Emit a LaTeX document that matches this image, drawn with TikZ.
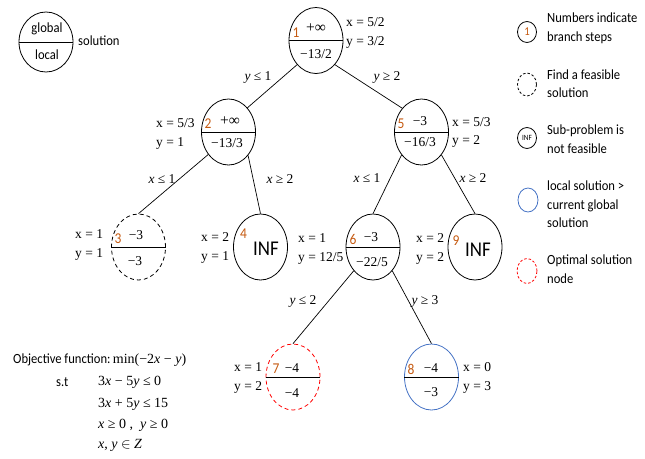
\documentclass[tikz,border=0pt]{standalone}
\usepackage{fontspec}
\setmainfont{Liberation Serif}
\newfontfamily\sfc{Carlito}[FakeStretch=0.9]
\usetikzlibrary{shapes.geometric}
\definecolor{numc}{RGB}{197,90,17}
\definecolor{bluec}{RGB}{68,114,196}
\definecolor{redc}{RGB}{255,0,0}
\tikzset{
  tn/.style={ellipse, draw, line width=0.8pt, minimum width=54pt, minimum height=66pt, inner sep=0pt},
  divl/.style={line width=0.8pt},
  edge/.style={line width=0.7pt},
  num/.style={text=numc, font=\sfc\fontsize{15}{15}\selectfont, inner sep=0pt},
  val/.style={font=\fontsize{13.5}{14}\selectfont, inner sep=0pt},
  infv/.style={font=\fontsize{15.5}{16}\selectfont, inner sep=0pt},
  side/.style={val, anchor=west, text height=9.5pt, text depth=3pt},
  elbl/.style={val, text height=9.5pt, text depth=3pt},
  inf/.style={font=\sfc\fontsize{21}{22}\selectfont, inner sep=0pt},
  sans/.style={font=\sfc\fontsize{14}{18.5}\selectfont, inner sep=0pt},
  legtxt/.style={sans, anchor=west, align=left},
  legc/.style={ellipse, draw, line width=0.8pt, inner sep=0pt, minimum width=19pt, minimum height=21pt},
  dash1/.style={dash pattern=on 4pt off 3pt},
  dash2/.style={dash pattern=on 2.5pt off 2pt}
}
\begin{document}
\begin{tikzpicture}[x=1pt,y=-1pt]
\useasboundingbox (0,0) rectangle (645,458);

% legend top-left
\node[ellipse, draw, line width=0.8pt, minimum width=54pt, minimum height=60pt, inner sep=0pt] (lg) at (46,42) {};
\draw[divl] (lg.west) -- (lg.east);
\node[sans] (lgg) at (47,29) {global};
\node[sans] (lgl) at (47,55) {local};
\node[sans, anchor=west] (lgs) at (78,41) {solution};

% tree nodes
\node[tn] (n1) at (316,40.5) {};
\node[tn] (n2) at (228.5,132) {};
\node[tn] (n5) at (421.5,132) {};
\node[tn, dash1] (n3) at (138.5,247) {};
\node[tn] (n4) at (260.5,247) {};
\node[tn] (n6) at (373,247) {};
\node[tn] (n9) at (475,247) {};
\node[tn, draw=redc, dash1] (n7) at (293,377) {};
\node[tn, draw=bluec] (n8) at (431.5,377) {};

\foreach \n in {n1,n2,n5,n3,n6,n7,n8} {\draw[divl] (\n.west) -- (\n.east);}

% edges
\draw[edge] (n1.232) -- (n2.52);
\draw[edge] (n1.308) -- (n5.129);
\draw[edge] (n2.228) -- (n3.north);
\draw[edge] (n2.310) -- (n4.north);
\draw[edge] (n5.229) -- (n6.north);
\draw[edge] (n5.311) -- (n9.north);
\draw[edge] (n6.231) -- (n7.north);
\draw[edge] (n6.309) -- (n8.north);

% edge labels
\node[elbl] (e12) at (258,77) {\textit{y} ≤ 1};
\node[elbl] (e15) at (387,77) {\textit{y} ≥ 2};
\node[elbl] (e23) at (162,180) {\textit{x} ≤ 1};
\node[elbl] (e24) at (280,180) {\textit{x} ≥ 2};
\node[elbl] (e56) at (367,179) {\textit{x} ≤ 1};
\node[elbl] (e59) at (473,179) {\textit{x} ≥ 2};
\node[elbl] (e67) at (303,301) {\textit{y} ≤ 2};
\node[elbl] (e68) at (425,301) {\textit{y} ≥ 3};

% node 1
\node[num] (k1) at (296,33) {1};
\node[infv] (a1) at (316,28) {+∞};
\node[val] (b1) at (316,54) {−13/2};
\node[side] (x1) at (346,23) {x = 5/2};
\node[side] (y1) at (346,42) {y = 3/2};
% node 2
\node[num] (k2) at (208,124) {2};
\node[infv] (a2) at (230,121) {+∞};
\node[val] (b2) at (227,143) {−13/3};
\node[side] (x2) at (156,124) {x = 5/3};
\node[side] (y2) at (156,143) {y = 1};
% node 5
\node[num] (k5) at (401,124) {5};
\node[val] (a5) at (420,121) {−3};
\node[val] (b5) at (420,142) {−16/3};
\node[side] (x5) at (452,123) {x = 5/3};
\node[side] (y5) at (452,141) {y = 2};
% node 3
\node[num] (k3) at (118,239) {3};
\node[val] (a3) at (136,235) {−3};
\node[val] (b3) at (135,261) {−3};
\node[side] (x3) at (75,235) {x = 1};
\node[side] (y3) at (75,254) {y = 1};
% node 4
\node[num] (k4) at (243.5,234) {4};
\node[inf] (a4) at (266,249) {INF};
\node[side] (x4) at (201,238) {x = 2};
\node[side] (y4) at (201,257) {y = 1};
% node 6
\node[num] (k6) at (353,239) {6};
\node[val] (a6) at (371,237) {−3};
\node[val] (b6) at (372,262) {−22/5};
\node[side] (x6) at (298,239) {x = 1};
\node[side] (y6) at (298,258) {y = 12/5};
% node 9
\node[num] (k9) at (456,241) {9};
\node[inf] (a9) at (478,250) {INF};
\node[side] (x9) at (416,239) {x = 2};
\node[side] (y9) at (416,258) {y = 2};
% node 7
\node[num] (k7) at (276,369) {7};
\node[val] (a7) at (292,368) {−4};
\node[val] (b7) at (292,393) {−4};
\node[side] (x7) at (234,368) {x = 1};
\node[side] (y7) at (234,387) {y = 2};
% node 8
\node[num] (k8) at (411,369) {8};
\node[val] (a8) at (431,368) {−4};
\node[val] (b8) at (431,392) {−3};
\node[side] (x8) at (463,368) {x = 0};
\node[side] (y8) at (463,387) {y = 3};

% right legend
\node[legc] (r1) at (527,32) {};
\node[text=numc, font=\sfc\fontsize{12}{12}\selectfont, inner sep=0pt] (r1t) at (527,32) {1};
\node[legtxt] (r1l) at (547,28.5) {Numbers indicate\\branch steps};
\node[legc, dash2, minimum height=23pt] (r2) at (527,84.5) {};
\node[legtxt] (r2l) at (547,83.5) {Find a feasible\\solution};
\node[legc] (r3) at (527,138) {};
\node[font=\sfc\fontsize{8}{8}\selectfont, inner sep=0pt] (r3t) at (527,138) {INF};
\node[legtxt] (r3l) at (547,139) {Sub-problem is\\not feasible};
\node[legc, draw=bluec, minimum width=20pt, minimum height=24pt] (r4) at (528,200) {};
\node[legtxt] (r4l) at (547,204.5) {local solution >\\current global\\solution};
\node[legc, draw=redc, dash2, minimum width=20pt, minimum height=25pt] (r5) at (527,271) {};
\node[legtxt] (r5l) at (547,269) {Optimal solution\\node};

% objective
\node[anchor=west, inner sep=0pt] (obj) at (13,360) {{\sfc\fontsize{14}{14}\selectfont Objective function:}\fontsize{14}{14}\selectfont\,min(−2\textit{x} − \textit{y})};
\node[sans, anchor=west] (st) at (56,382) {s.t};
\node[val, anchor=west, font=\fontsize{14}{14}\selectfont] (c1) at (98,382) {3\textit{x} − 5\textit{y} ≤ 0};
\node[val, anchor=west, font=\fontsize{14}{14}\selectfont] (c2) at (98,404) {3\textit{x} + 5\textit{y} ≤ 15};
\node[val, anchor=west, font=\fontsize{14}{14}\selectfont] (c3) at (98,425) {\textit{x} ≥ 0 , \ \textit{y} ≥ 0};
\node[val, anchor=west, font=\fontsize{14}{14}\selectfont] (c4) at (98,445) {\textit{x}, \textit{y} $\in$ \textit{Z}};
\end{tikzpicture}
\end{document}
